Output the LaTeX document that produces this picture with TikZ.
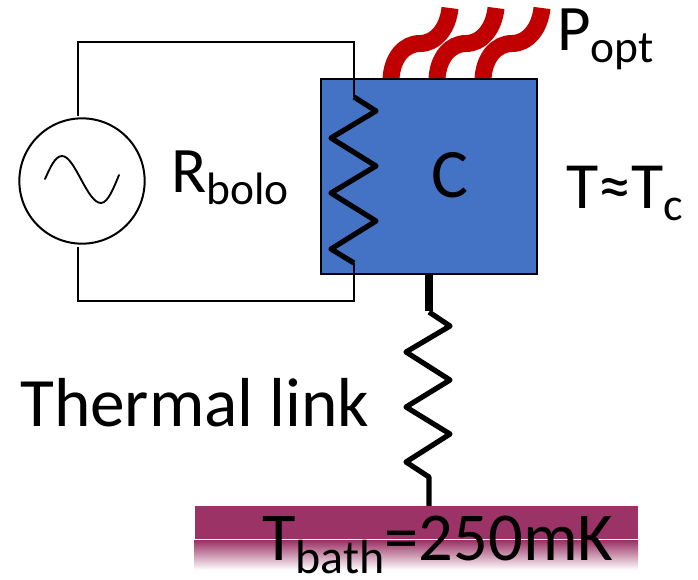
\documentclass[tikz,border=0pt]{standalone}
\usepackage{fontspec}
\setmainfont{Carlito}
\definecolor{bodyblue}{HTML}{4472C4}
\definecolor{waveRed}{HTML}{C00000}
\definecolor{bathpurple}{HTML}{9B3366}
\tikzset{
  wire/.style={black,line width=1.5pt,line join=miter},
  zig/.style={black,line width=3.9pt,line join=round},
  heat/.style={waveRed,line width=12.75pt},
  lbl/.style={inner sep=0pt,text=black,anchor=base west},
}
\newcommand{\Fs}[1]{\fontsize{#1}{#1}\selectfont}
\newcommand{\Sb}[1]{\raisebox{-0.19em}{\fontsize{0.7em}{1em}\selectfont #1}}
\begin{document}
\begin{tikzpicture}[x=0.75pt,y=-0.75pt]
\useasboundingbox (0,0) rectangle (698,579);
% heat waves
\foreach \dx in {0,46,92}{
  \draw[heat,xshift=\dx*0.75pt] (391,79) .. controls (392,58) and (404,43.5) .. (420,43.5)
     .. controls (436,43.5) and (448,28) .. (450,8);
}
% body
\node[draw=black,line width=1.5pt,fill=bodyblue,minimum width=162pt,minimum height=146pt,inner sep=0pt,outer sep=0pt] (body) at (428.5,176.5) {};
% coords
\coordinate (rt) at (354,97);
\coordinate (rb) at (354,263);
\coordinate (lt) at (429,312);
\coordinate (lb) at (429,477);
\coordinate (bt) at (429,506);
% source
\node[draw=black,line width=1.5pt,fill=white,circle,minimum size=94pt,inner sep=0pt,outer sep=0pt] (src) at (82,181) {};
\coordinate (st) at (78,116.2);
\coordinate (sb) at (78,246.8);
\draw[wire] (st) -- (78,42) -- (354,42) -- (rt);
\draw[wire] (sb) -- (78,301) -- (354,301) -- (rb);
\draw[black,line width=1.4pt,line cap=round] (45,179) .. controls (50,168) and (55,156) .. (62,156)
  .. controls (75,156) and (87,203) .. (101,203) .. controls (108,203) and (114,187) .. (119,175);
% resistors
\draw[zig] (rt) -- (376,111) -- (331,138) -- (376,166) -- (331,193) -- (376,221) -- (331,249) -- (rb);
\draw[black,line width=5.4pt] (body.south -| lt) -- (429,311);
\draw[zig] (lt) -- (450,326) -- (406,352) -- (450,380) -- (406,407) -- (450,434) -- (406,462) -- (lb) -- (bt);
% bath
\node[fill=bathpurple,minimum width=332.25pt,minimum height=24.75pt,inner sep=0pt,outer sep=0pt] (bath) at (416.5,522.5) {};
\shade[top color=bathpurple,bottom color=white] (194,540.5) rectangle (638,570);
% labels
\node[lbl,font=\Fs{48.7}] (rbolo) at (171,192) {R\Sb{bolo}};
\node[lbl,font=\Fs{52}] (cap) at (431,197) {C};
\node[lbl,font=\Fs{48.7}] (popt) at (557,50) {P\Sb{opt}};
\node[lbl,font=\Fs{49.5}] (tc) at (566,208) {T≈T\Sb{c}};
\node[lbl,font=\Fs{52}] (link) at (20,426) {Thermal link};
\node[lbl,font=\Fs{51.4}] (tbath) at (262,560) {T\Sb{bath}=250mK};
\end{tikzpicture}
\end{document}
